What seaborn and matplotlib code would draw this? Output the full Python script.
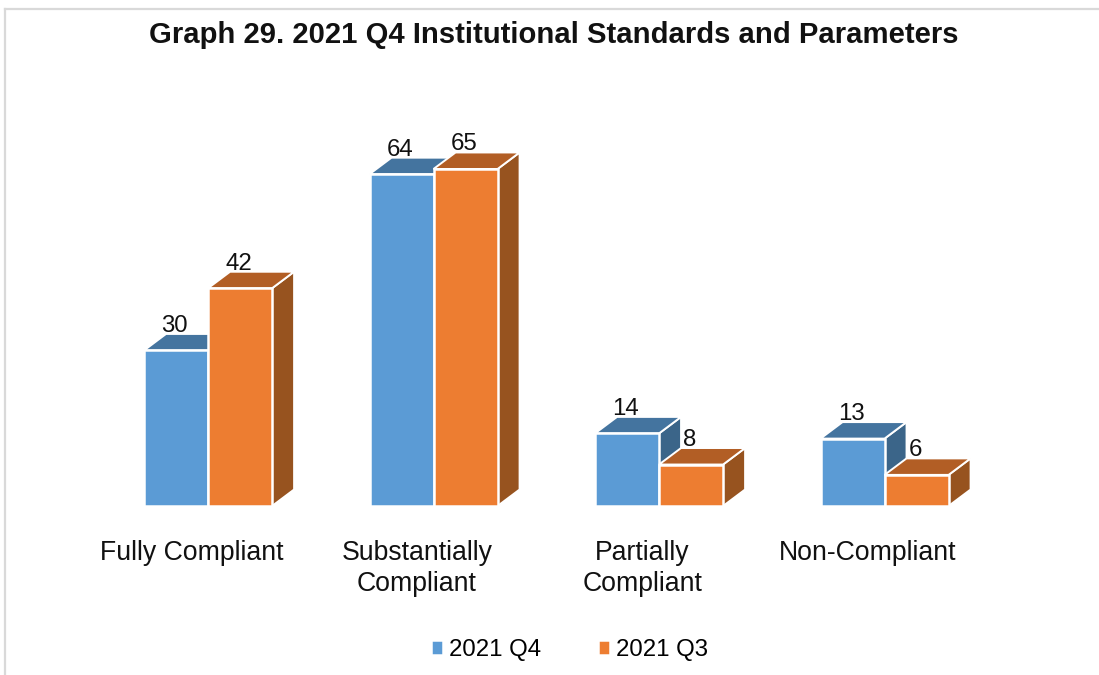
import matplotlib
matplotlib.use("Agg")
import matplotlib.pyplot as plt
from matplotlib.lines import Line2D
from matplotlib.patches import Polygon
from matplotlib.transforms import ScaledTranslation
import pandas as pd
import seaborn as sns

categories = ["Fully Compliant", "Substantially\nCompliant", "Partially\nCompliant", "Non-Compliant"]
series_names = ["2021 Q4", "2021 Q3"]
q4_values = [30, 64, 14, 13]
q3_values = [42, 65, 8, 6]
front_colors = ["#5B9BD5", "#ED7D31"]
top_colors = ["#44749F", "#B25E25"]
side_colors = ["#3B6589", "#97531F"]

W, H = 1099, 675
plt.rcParams["font.family"] = ["Liberation Sans", "DejaVu Sans"]
fig = plt.figure(figsize=(W / 100, H / 100), dpi=100, facecolor="white")

# axes placed in pixels: baseline at y=506, four category slots of 225.5 px
left, right, top, bottom = 95.3, 997.3, 100, 506
ax = fig.add_axes([left / W, 1 - bottom / H, (right - left) / W, (bottom - top) / H])

df = pd.DataFrame({
    "category": categories * 2,
    "series": [series_names[0]] * 4 + [series_names[1]] * 4,
    "value": q4_values + q3_values,
})
sns.barplot(data=df, x="category", y="value", hue="series", hue_order=series_names,
            palette=front_colors, width=0.568, gap=0, saturation=1, dodge=True,
            edgecolor="white", linewidth=1.8, ax=ax, errorbar=None)
ax.set_xlim(-0.5, 3.5)
ax.set_ylim(0, (bottom - top) / 5.185)

px_x = (right - left) / 4
px_y = (bottom - top) / ax.get_ylim()[1]
dx, dy = 22 / px_x, 16.5 / px_y

for s, container in enumerate(ax.containers):
    for c, bar in enumerate(container):
        x0, w, h = bar.get_x(), bar.get_width(), bar.get_height()
        z = 2 + c + s * 0.3
        top_face = [(x0, h), (x0 + w, h), (x0 + w + dx, h + dy), (x0 + dx, h + dy)]
        side_face = [(x0 + w, 0), (x0 + w + dx, dy), (x0 + w + dx, h + dy), (x0 + w, h)]
        ax.add_patch(Polygon(side_face, closed=True, facecolor=side_colors[s],
                             edgecolor="white", linewidth=1.4, zorder=z))
        ax.add_patch(Polygon(top_face, closed=True, facecolor=top_colors[s],
                             edgecolor="white", linewidth=1.4, zorder=z + 0.01))
        bar.set_zorder(z + 0.02)
        ax.annotate(str(int(h)), xy=(x0 + w / 2, h), xytext=(-0.8, 24.5 * 0.72),
                    textcoords="offset points", ha="center", va="center",
                    fontsize=17.3, color="#111111", zorder=20)

for side in ax.spines.values():
    side.set_visible(False)
ax.set_xlabel("")
ax.set_ylabel("")
ax.set_yticks([])
ax.patch.set_alpha(0)
ax.tick_params(axis="x", length=0, pad=0, labelsize=19.2, labelcolor="#111111")
shift = ScaledTranslation(-16.8 / 100, -34.5 / 100, fig.dpi_scale_trans)
for lab in ax.get_xticklabels():
    lab.set_transform(lab.get_transform() + shift)
    lab.set_linespacing(1.24)
    lab.set_verticalalignment("top")

sns.move_legend(ax, "center", bbox_to_anchor=(569.5 / W, 1 - 650 / H),
                bbox_transform=fig.transFigure, ncol=2, title=None, frameon=False,
                fontsize=17.3, handlelength=0.52, handleheight=0.55,
                handletextpad=0.24, columnspacing=2.35, borderpad=0)

fig.text(554 / W, 1 - 35 / H, "Graph 29. 2021 Q4 Institutional Standards and Parameters",
         ha="center", va="center", fontsize=21.1, fontweight="bold", color="#111111")

border = "#D9D9D9"
fig.add_artist(Line2D([5 / W, 5 / W], [0, 1 - 8.5 / H], color=border, lw=1.6))
fig.add_artist(Line2D([5 / W, 1], [1 - 8.5 / H, 1 - 8.5 / H], color=border, lw=1.6))

fig.savefig("out.png", dpi=100, facecolor="white")
